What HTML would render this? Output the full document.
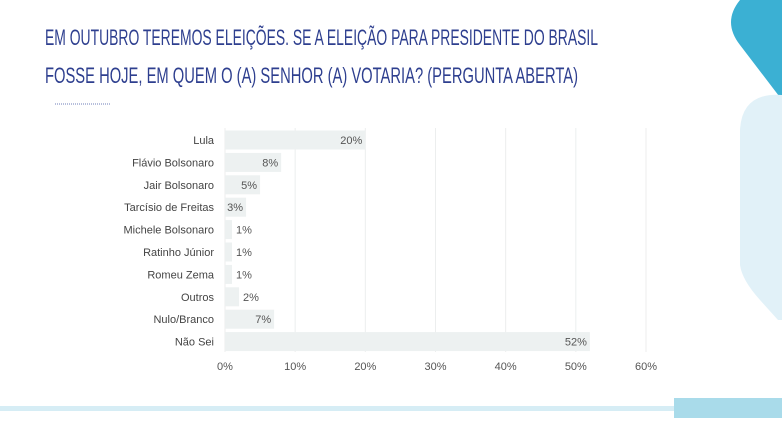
<!DOCTYPE html>
<html><head><meta charset="utf-8"><style>
body{margin:0;width:782px;height:440px;background:#fff;overflow:hidden;position:relative;font-family:"Liberation Sans",sans-serif}
</style></head><body>
<svg width="782" height="440" style="position:absolute;left:0;top:0">
<path d="M740,0 Q722,22 740,45 L782,100 L782,0 Z" fill="#3bb0d3"/>
<path d="M782,95 Q742,92 740,130 L740,265 Q742,280 760,300 L778,320 L782,320 Z" fill="#e1f1f8"/>
<rect x="0" y="406" width="738" height="5" fill="#d6edf5"/>
<rect x="674" y="398" width="108" height="20" fill="#a9dbea"/>
<line x1="55" y1="104" x2="110" y2="104" stroke="#6f7fb8" stroke-width="1" stroke-dasharray="1,1"/>
<text x="45" y="45" font-size="22" fill="#2e3f8f" textLength="553" lengthAdjust="spacingAndGlyphs" font-family="Liberation Sans, sans-serif">EM OUTUBRO TEREMOS ELEIÇÕES. SE A ELEIÇÃO PARA PRESIDENTE DO BRASIL</text>
<text x="45" y="83" font-size="22" fill="#2e3f8f" textLength="533" lengthAdjust="spacingAndGlyphs" font-family="Liberation Sans, sans-serif">FOSSE HOJE, EM QUEM O (A) SENHOR (A) VOTARIA? (PERGUNTA ABERTA)</text>
<g id="chart"></g>
</svg>
<script>
const categories=["Lula","Flávio Bolsonaro","Jair Bolsonaro","Tarcísio de Freitas","Michele Bolsonaro","Ratinho Júnior","Romeu Zema","Outros","Nulo/Branco","Não Sei"];
const values=[20,8,5,3,1,1,1,2,7,52];
const ticks=[0,10,20,30,40,50,60];
const NS="http://www.w3.org/2000/svg";
const g=document.getElementById("chart");
const x0=225,x1=646,xmax=60,y0=140,step=22.4,bh=19;
const xs=v=>x0+(x1-x0)*v/xmax;
const ys=i=>y0+i*step;
function mk(t,a){const e=document.createElementNS(NS,t);for(const k in a)e.setAttribute(k,a[k]);g.appendChild(e);return e;}
ticks.forEach(t=>{
 const l=mk("line",{x1:xs(t),x2:xs(t),y1:128,y2:352,stroke:"#eceeee","stroke-width":1});
 
 
 const tx=mk("text",{x:xs(t),y:370,"text-anchor":"middle","font-size":11,fill:"#555","font-family":"Liberation Sans, sans-serif"});
 tx.textContent=t+"%";
 
 
});
categories.forEach((c,i)=>{
 const r=mk("rect",{x:x0,y:ys(i)-bh/2,width:xs(values[i])-x0,height:bh,fill:"#edf1f1"});
 
 
 const lb=mk("text",{x:214,y:ys(i)+4,"text-anchor":"end","font-size":11,fill:"#444","font-family":"Liberation Sans, sans-serif"});
 lb.textContent=c;
 
 
 const w=xs(values[i])-x0;
 const vx=w>20?xs(values[i])-3:xs(values[i])+4;
 const vl=mk("text",{x:vx,y:ys(i)+4,"text-anchor":w>20?"end":"start","font-size":11,fill:"#555","font-family":"Liberation Sans, sans-serif"});
 vl.textContent=values[i]+"%";
 
 
});
</script>
</body></html>
